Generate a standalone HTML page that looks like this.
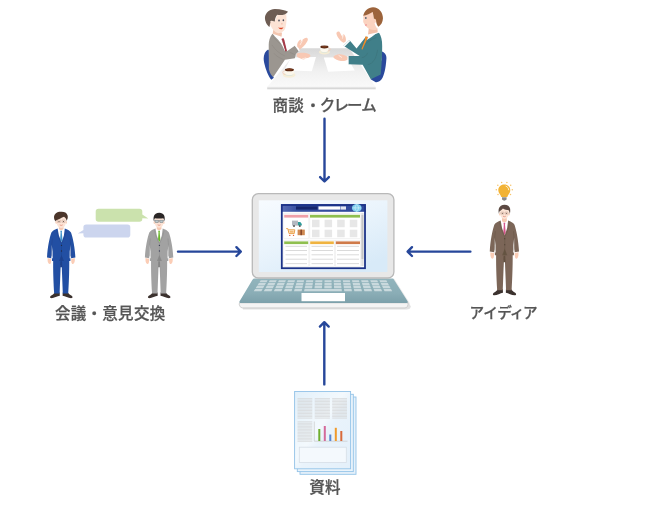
<!DOCTYPE html>
<html lang="ja">
<head>
<meta charset="utf-8">
<title>情報の集約</title>
<style>
html,body{margin:0;padding:0;background:#fff;}
body{width:650px;height:505px;overflow:hidden;position:relative;font-family:"Liberation Sans","Noto Sans CJK JP",sans-serif;}
svg{position:absolute;left:0;top:0;display:block;}
</style>
</head>
<body>
<svg width="650" height="505" viewBox="0 0 650 505">
<defs>
<linearGradient id="tbl" x1="0" y1="0" x2="0" y2="1"><stop offset="0" stop-color="#d8d8d8"/><stop offset="0.3" stop-color="#e5e5e5"/><stop offset="0.6" stop-color="#f1f1f1"/><stop offset="1" stop-color="#f9f9f9"/></linearGradient>
<linearGradient id="scr" x1="0" y1="0" x2="0.700" y2="1"><stop offset="0" stop-color="#f7fbff"/><stop offset="0.500" stop-color="#eaf4fc"/><stop offset="1" stop-color="#d8eaf8"/></linearGradient>
<linearGradient id="pg" x1="0" y1="0" x2="1" y2="1"><stop offset="0" stop-color="#e2f0fa"/><stop offset="0.45" stop-color="#f3f9fd"/><stop offset="0.55" stop-color="#e9f3fb"/><stop offset="1" stop-color="#e4f0fa"/></linearGradient>
<filter id="soft" x="-5%" y="-5%" width="110%" height="110%"><feGaussianBlur stdDeviation="0.35"/></filter>
<linearGradient id="base" x1="0" y1="0" x2="0" y2="1"><stop offset="0" stop-color="#92b4bc"/><stop offset="0.6" stop-color="#8aadb6"/><stop offset="1" stop-color="#7ca0aa"/></linearGradient>
<linearGradient id="hdr" x1="0" y1="0" x2="1" y2="0"><stop offset="0" stop-color="#5a6eb6"/><stop offset="0.2" stop-color="#364fa0"/><stop offset="1" stop-color="#2f4a9c"/></linearGradient>
<linearGradient id="tblf" x1="0" y1="0" x2="0" y2="1"><stop offset="0" stop-color="#ededed"/><stop offset="1" stop-color="#cdcdcd"/></linearGradient>
</defs>
<g filter="url(#soft)">
<!-- ARROWS -->
<g fill="none" stroke="#27479a" stroke-width="2.4" stroke-linecap="round" stroke-linejoin="round">
<path d="M324.5 118.800V181.300M320.100 177.100L324.500 181.500L328.900 177.100"/>
<path d="M324.300 384.400V322.400M319.900 326.600L324.300 322.200L328.700 326.600"/>
<path d="M178 251.600H240.600M236.400 247.200L240.800 251.600L236.400 256"/>
<path d="M470.400 251.600H407.800M412 247.200L407.600 251.600L412 256"/>
</g>

<!-- MEETING -->
<g id="meeting">
<!-- chairs -->
<g transform="translate(260,30) scale(0.09901)">
<path d="M82 196C45 215 28 270 42 330C58 400 85 470 115 502L140 482C112 440 94 400 92 330L90 205Z" fill="#2a4a9c"/>
</g>
<g transform="translate(330,30) scale(0.09901)">
<path d="M520 215C550 225 572 250 570 285C566 350 556 430 532 480C516 512 490 530 462 527L410 497L480 430L520 300Z" fill="#2a4a9c"/>
</g>
<!-- table -->
<path d="M299.600 48.300H349.300L375.700 87H267.200Z" fill="url(#tbl)"/>
<path d="M267.200 86.800H375.700V89.300H267.200Z" fill="url(#tblf)"/>
<!-- papers -->
<path d="M291 57.400L316 57.100L311.800 71.200L284.500 70.200Z" fill="#fff"/>
<path d="M323.800 57.600L347 57.300L354.800 70.500L328.200 71.700Z" fill="#fff"/>
<!-- cup centre -->
<ellipse cx="324.400" cy="52.100" rx="5.500" ry="2.300" fill="#f5ecd4"/>
<ellipse cx="324.400" cy="51.800" rx="3.600" ry="1.300" fill="#e4e8da"/>
<path d="M320.300 47H328.500V49.500C328.500 52.900 320.300 52.900 320.300 49.500Z" fill="#fcf8ee"/>
<path d="M328.300 48C330.900 47.600 330.900 51.200 327.800 51" fill="none" stroke="#f3cdb8" stroke-width="0.900"/>
<ellipse cx="324.400" cy="47" rx="4.100" ry="1.400" fill="#5a2a16"/>
<ellipse cx="324.400" cy="46.700" rx="2.900" ry="0.700" fill="#7a3a1c"/>
<!-- cup left -->
<ellipse cx="289.100" cy="75" rx="6.400" ry="2.700" fill="#f6eed8"/>
<ellipse cx="289.100" cy="74.600" rx="4" ry="1.500" fill="#e3e8dc"/>
<path d="M284.700 69.700H294.100V72.200C294.100 76 284.700 76 284.700 72.200Z" fill="#fbf7ec"/>
<path d="M285 70.800C282 70.600 282 74.600 285.400 74.400" fill="none" stroke="#f3cdb8" stroke-width="0.900"/>
<ellipse cx="289.400" cy="69.700" rx="4.500" ry="1.500" fill="#5a2a16"/>
<ellipse cx="289.400" cy="69.400" rx="3.200" ry="0.800" fill="#7a3a1c"/>

<!-- LEFT MAN body -->
<g transform="translate(260,30) scale(0.09901)">
<path d="M125 38C100 70 88 110 88 150L90 400C100 440 115 460 134 474L252 300L352 285L362 242L398 208L352 158L272 214L246 130C215 100 170 65 125 38Z" fill="#9b9690"/>
<path d="M128 60C150 90 190 130 215 150M120 150C150 200 200 240 250 262M140 235C165 265 200 285 240 300M300 225L355 250" fill="none" stroke="#857f79" stroke-width="5" opacity="0.700"/>
<path d="M128 34L216 72L232 86L220 100L258 210L247 206C232 160 200 105 148 62Z" fill="#fff"/>
<path d="M216 90L236 80L246 100L272 212L256 217L226 112Z" fill="#a63a48"/>
<path d="M350 157L380 168L402 206L392 216Z" fill="#fff"/>
<path d="M376 166C370 140 385 110 410 95C417 100 413 115 406 126C425 100 450 74 470 78C490 85 486 106 470 126C455 150 430 182 402 196Z" fill="#f8c8b3"/>
<path d="M370 240C400 225 460 228 500 245C516 255 511 275 490 280C470 282 456 285 450 296C430 300 400 286 374 270Z" fill="#f8c8b3"/>
<path d="M428 108L406 148M462 282L426 292" fill="none" stroke="#fff" stroke-width="7" stroke-linecap="round" opacity="0.850"/>
</g>
<!-- LEFT MAN head -->
<g transform="translate(260,0) scale(0.09901)">
<path d="M135 300L222 332L218 372L128 342Z" fill="#f3c6b0"/>
<path d="M175 150C210 156 245 150 264 140C270 180 270 230 258 276C250 312 215 337 185 336C150 330 120 290 105 256C94 240 94 215 110 212C125 210 140 215 150 215Z" fill="#fce3d5"/>
<path d="M283 118C260 105 215 92 150 90C95 92 55 130 50 175C48 215 70 255 96 273C100 256 100 240 106 228C98 214 112 206 126 212L150 218C150 190 160 166 175 150C210 156 262 152 283 118Z" fill="#6d5c52"/>
<ellipse cx="192" cy="208" rx="8" ry="10" fill="#454a58"/><ellipse cx="236" cy="205" rx="8" ry="10" fill="#454a58"/>
<ellipse cx="221" cy="241" rx="8" ry="6" fill="#f0b29c"/>
<path d="M184 276C200 284 222 282 236 274C232 296 198 306 184 276Z" fill="#dc4a2c"/>
</g>

<!-- RIGHT MAN body -->
<g transform="translate(330,30) scale(0.09901)">
<path d="M495 28C515 60 528 100 527 160C527 230 526 300 512 450L412 497L330 352L186 345L186 262L300 262L136 160L196 102L268 186L360 70Z" fill="#417f89"/>
<path d="M330 170C360 130 420 90 470 75M380 230C370 260 350 275 320 280M480 200C470 280 440 340 380 350" fill="none" stroke="#33686f" stroke-width="5" opacity="0.700"/>
<path d="M380 42L490 18L420 70L372 100Z" fill="#fff"/>
<path d="M358 62L384 72L372 100L326 200L318 192L352 100Z" fill="#ee8a2a"/>
<path d="M136 158L196 100L205 110L146 168Z" fill="#fff"/>
<path d="M186 262L186 345L176 345L176 262Z" fill="#fff"/>
<path d="M140 128C110 118 75 78 65 38C62 18 80 8 95 18C105 33 115 58 130 73C125 58 125 43 140 43C155 58 165 88 160 113Z" fill="#f8c8b3"/>
<path d="M176 272C146 246 100 240 70 250C45 255 30 266 36 280C50 296 80 306 110 312C136 316 160 310 176 300Z" fill="#f8c8b3"/>
<path d="M134 50L126 84M90 258L118 276" fill="none" stroke="#fff" stroke-width="7" stroke-linecap="round" opacity="0.850"/>
</g>
<!-- RIGHT MAN head -->
<g transform="translate(330,0) scale(0.09901)">
<path d="M392 285L478 285L482 326L384 348Z" fill="#f3c0a8"/>
<path d="M340 155C370 145 410 130 432 120L442 190C455 180 470 190 468 210C466 225 458 232 450 232C455 255 470 280 478 292L470 300C440 305 400 300 385 285C365 270 350 255 345 240C335 230 332 210 338 195C335 180 336 165 340 155Z" fill="#fbd3c0"/>
<path d="M335 160C345 110 385 72 435 72C495 75 535 125 535 185C533 225 515 255 488 270C475 255 468 235 466 215C468 198 456 186 444 192L432 120C410 135 370 150 335 160Z" fill="#9c643a"/>
<ellipse cx="362" cy="182" rx="8" ry="10" fill="#45566a"/>
<path d="M352 244C358 252 366 252 374 244C370 262 356 262 352 244Z" fill="#e0506a"/>
</g>
</g>


<!-- LAPTOP -->
<g id="laptop">
<path d="M243 309.400H406.500Q410.800 309.400 410.600 306.200L408.500 302H241Z" fill="#d4d4d4" opacity="0.7"/>
<path d="M394.500 279L410 303.500L407 303.500L392 279Z" fill="#dedede" opacity="0.6"/>
<path d="M240.500 302.800H406.800Q408.300 302.800 408.100 304.200L407.600 306Q407 307.900 405 307.900H242.600Q240.500 307.900 239.800 306L239.200 304.200Q239 302.800 240.500 302.800Z" fill="#f4f4f4" stroke="#c6c6c6" stroke-width="0.800"/>
<path d="M254.500 278.600H393.200L407.600 301.200Q408.500 303 406.200 303H241Q238.600 303 239.600 301.200Q247 289 252.300 280Q253.200 278.600 254.500 278.600Z" fill="url(#base)"/>
<rect x="252.300" y="193.700" width="141.600" height="84.300" rx="6" fill="#e8e8e8" stroke="#b9b9b9" stroke-width="1.300"/>
<rect x="258.800" y="200.300" width="128.600" height="71.700" fill="url(#scr)"/>
<path d="M260.7 280.3L267.63 280.3L266.48 282.3L259.42 282.3ZM269.82 280.3L276.76 280.3L275.78 282.3L268.72 282.3ZM278.95 280.3L285.89 280.3L285.08 282.3L278.02 282.3ZM288.08 280.3L295.02 280.3L294.38 282.3L287.32 282.3ZM297.21 280.3L304.15 280.3L303.68 282.3L296.62 282.3ZM306.34 280.3L313.28 280.3L312.98 282.3L305.92 282.3ZM315.47 280.3L322.4 280.3L322.28 282.3L315.22 282.3ZM324.6 280.3L331.53 280.3L331.58 282.3L324.52 282.3ZM333.72 280.3L340.66 280.3L340.88 282.3L333.82 282.3ZM342.85 280.3L349.79 280.3L350.18 282.3L343.12 282.3ZM351.98 280.3L358.92 280.3L359.48 282.3L352.42 282.3ZM361.11 280.3L368.05 280.3L368.78 282.3L361.72 282.3ZM370.24 280.3L377.18 280.3L378.08 282.3L371.02 282.3ZM379.37 280.3L386.3 280.3L387.38 282.3L380.32 282.3ZM258.9 283.1L266.02 283.1L264.76 285.3L257.5 285.3ZM268.27 283.1L275.39 283.1L274.32 285.3L267.05 285.3ZM277.64 283.1L284.76 283.1L283.87 285.3L276.61 285.3ZM287.01 283.1L294.13 283.1L293.43 285.3L286.17 285.3ZM296.38 283.1L303.5 283.1L302.99 285.3L295.73 285.3ZM305.75 283.1L312.87 283.1L312.55 285.3L305.28 285.3ZM315.12 283.1L322.24 283.1L322.1 285.3L314.84 285.3ZM324.48 283.1L331.6 283.1L331.66 285.3L324.4 285.3ZM333.85 283.1L340.97 283.1L341.22 285.3L333.95 285.3ZM343.22 283.1L350.34 283.1L350.77 285.3L343.51 285.3ZM352.59 283.1L359.71 283.1L360.33 285.3L353.07 285.3ZM361.96 283.1L369.08 283.1L369.89 285.3L362.63 285.3ZM371.33 283.1L378.45 283.1L379.45 285.3L372.18 285.3ZM380.7 283.1L387.82 283.1L389 285.3L381.74 285.3ZM257.18 285.8L264.47 285.8L263.04 288.3L255.58 288.3ZM266.78 285.8L274.07 285.8L272.85 288.3L265.39 288.3ZM276.38 285.8L283.67 285.8L282.67 288.3L275.21 288.3ZM285.98 285.8L293.27 285.8L292.48 288.3L285.02 288.3ZM295.58 285.8L302.87 285.8L302.29 288.3L294.83 288.3ZM305.18 285.8L312.47 285.8L312.11 288.3L304.65 288.3ZM314.78 285.8L322.07 285.8L321.92 288.3L314.46 288.3ZM324.38 285.8L331.67 285.8L331.74 288.3L324.28 288.3ZM333.98 285.8L341.27 285.8L341.55 288.3L334.09 288.3ZM343.58 285.8L350.87 285.8L351.37 288.3L343.91 288.3ZM353.18 285.8L360.47 285.8L361.18 288.3L353.72 288.3ZM362.78 285.8L370.07 285.8L370.99 288.3L363.53 288.3ZM372.38 285.8L379.67 285.8L380.81 288.3L373.35 288.3ZM381.98 285.8L389.27 285.8L390.62 288.3L383.16 288.3ZM255.13 289L262.63 289L261.37 291.2L253.72 291.2ZM265 289L272.51 289L271.43 291.2L263.79 291.2ZM274.88 289L282.38 289L281.5 291.2L273.85 291.2ZM284.75 289L292.26 289L291.56 291.2L283.91 291.2ZM294.63 289L302.13 289L301.62 291.2L293.97 291.2ZM344 289L351.5 289L351.94 291.2L344.29 291.2ZM353.87 289L361.38 289L362 291.2L354.35 291.2ZM363.75 289L371.25 289L372.06 291.2L364.41 291.2ZM373.62 289L381.13 289L382.12 291.2L374.48 291.2ZM383.5 289L391 289L392.19 291.2L384.54 291.2ZM304.5 289L341.63 289L341.87 291.2L304.04 291.2Z" fill="#c9d9dd"/>
<rect x="301.500" y="293" width="43.500" height="8.200" fill="#fff"/>
<!-- browser -->
<rect x="281.800" y="205" width="83.200" height="63.200" fill="#fdfdfd"/>
<rect x="281" y="204.200" width="84.800" height="7.600" fill="url(#hdr)"/>
<rect x="281.800" y="205" width="83.200" height="63.200" fill="none" stroke="#1c3288" stroke-width="1.800"/>
<rect x="296" y="206.400" width="21.500" height="3.200" fill="#16286c"/>
<rect x="318.500" y="206.400" width="22" height="3.200" fill="#fff"/>
<rect x="341" y="206.400" width="5" height="3.200" fill="#e3e7f2"/>
<ellipse cx="356.800" cy="208" rx="4.900" ry="3.900" fill="#7fd0ee"/>
<path d="M352.600 207.900H361M356.800 204.500C354.500 206.500 354.500 209.500 356.800 211.300C359 209.500 359 206.500 356.800 204.500" fill="none" stroke="#e8f7fd" stroke-width="0.500"/>
<rect x="361.300" y="213" width="2.300" height="53" fill="#e0e0e0"/>
<rect x="361.500" y="215" width="1.900" height="44" fill="#c4c4c4"/>
<rect x="283.800" y="213.500" width="25" height="25" fill="#fff" stroke="#ececec" stroke-width="0.600"/>
<rect x="284.200" y="214.800" width="24" height="2.800" fill="#f0a0a8"/>
<rect x="309.800" y="213.500" width="50.600" height="25" fill="#fff" stroke="#ececec" stroke-width="0.600"/>
<rect x="310" y="214.800" width="50" height="2.800" fill="#8fbf4f"/>
<g fill="#e7e7e7">
<rect x="312" y="219.700" width="7.500" height="7.500"/><rect x="324.600" y="219.700" width="7.500" height="7.500"/><rect x="337.200" y="219.700" width="7.500" height="7.500"/><rect x="349.800" y="219.700" width="7.500" height="7.500"/>
<rect x="312" y="229.700" width="7.500" height="7.500"/><rect x="324.600" y="229.700" width="7.500" height="7.500"/><rect x="337.200" y="229.700" width="7.500" height="7.500"/><rect x="349.800" y="229.700" width="7.500" height="7.500"/>
</g>
<rect x="283.800" y="240.600" width="25" height="26" fill="#fff" stroke="#ececec" stroke-width="0.600"/>
<rect x="309.800" y="240.600" width="24.600" height="26" fill="#fff" stroke="#ececec" stroke-width="0.600"/>
<rect x="335.400" y="240.600" width="25" height="26" fill="#fff" stroke="#ececec" stroke-width="0.600"/>
<rect x="284.200" y="241.400" width="24" height="2.700" fill="#8fbf4f"/>
<rect x="310.200" y="241.400" width="23.600" height="2.700" fill="#efb340"/>
<rect x="335.800" y="241.400" width="24.200" height="2.700" fill="#cf7a4a"/>
<g stroke="#d6d6d6" stroke-width="0.900" fill="none">
<path d="M285.500 246.300H307M285.500 250.500H307M285.500 254.800H307M285.500 259.200H307M285.500 263.600H307"/>
<path d="M311.500 246.300H333M311.500 250.500H333M311.500 254.800H333M311.500 259.200H333M311.500 263.600H333"/>
<path d="M337 246.300H359M337 250.500H359M337 254.800H359M337 259.200H359M337 263.600H359"/>
</g>
<!-- icons -->
<path d="M292 220.600H298V225.600H292Z" fill="#b4b8c0"/>
<path d="M298 222H300.300L301.800 224V225.600H298Z" fill="#2e9c9a"/>
<circle cx="294" cy="226" r="1" fill="#555"/><circle cx="299.800" cy="226" r="1" fill="#555"/>
<path d="M286.200 228.600H287.800L289 233.600H294.200L294.800 229.800H288.200" fill="none" stroke="#e9983a" stroke-width="0.900"/>
<rect x="289.500" y="230.600" width="4.200" height="2.200" fill="#f2b872"/>
<circle cx="289.800" cy="235.400" r="0.700" fill="#e0603a"/><circle cx="293.500" cy="235.400" r="0.700" fill="#e0603a"/>
<rect x="297.600" y="229.600" width="7.200" height="5.600" fill="#cf8a52"/>
<rect x="300.400" y="229.600" width="1.600" height="5.600" fill="#8a4a2a"/>
</g>


<!-- BLUE MAN -->
<g id="blueman">
<path d="M59.7 292.44L59.8 295.83C57.2 296.23 53.7 298.42 50.9 298.12C49.7 297.82 49.8 296.43 50.9 295.73C52.7 294.63 54.2 293.64 54.7 292.44Z" fill="#3b302e"/>
<path d="M62.7 292.44L62.6 295.83C65.2 296.23 68.7 298.42 71.7 298.12C72.9 297.82 72.8 296.43 71.7 295.73C69.9 294.63 68.4 293.64 67.9 292.44Z" fill="#3b302e"/>
<path d="M53.2 258.88L69.2 258.88C69.4 267.34 69 281.29 68.2 293.54L62.8 293.54L61.7 265.35L60.7 265.35L59.6 293.54L54.2 293.54C53.4 281.29 53 267.34 53.2 258.88Z" fill="#2350a3"/>
<path d="M60.4 261.37L62 261.37L63 281.29L62.4 267.34L60 267.34L59.4 281.29Z" fill="#1b3f8a"/>
<path d="M47.6 257.38L51 257.88C51.4 260.37 51.2 262.86 50.2 263.96C49 264.65 47.8 262.86 47.6 260.87Z" fill="#fbcdb6"/>
<path d="M74.8 257.38L71.4 257.88C71 260.37 71.2 262.86 72.2 263.96C73.4 264.65 74.6 262.86 74.8 260.87Z" fill="#fbcdb6"/>
<path d="M47.2 256.99L51.4 257.68L51.3 258.68L47.1 257.98Z" fill="#fff"/>
<path d="M75.2 256.99L71 257.68L71.1 258.68L75.3 257.98Z" fill="#fff"/>
<path d="M59 223.52L63.4 223.52L63.6 230.49L58.8 230.49Z" fill="#f6c9b3"/>
<path d="M57.8 228.5L61.2 230.49L64.6 228.5L65.8 231.49L61.5 242.44L56.6 231.49Z" fill="#fff"/>
<path d="M60.3 230.69L62.1 230.69L61.8 232.48L62.5 239.95L61.4 242.24L60.1 239.95L60.6 232.48Z" fill="#3f93cc"/>
<path d="M57.6 228.5C55.2 229.3 52.6 230.49 51.4 232.48C49.4 237.96 47.6 247.42 47 257.38L51.4 258.18L51.8 254.4L52 260.97L70.4 260.97L70.6 254.4L71 258.18L75.4 257.38C74.8 247.42 73 237.96 71 232.48C69.8 230.49 67.2 229.3 64.8 228.5L63.9 235.47L61.5 242.44L58.9 235.47Z" fill="#2350a3"/>
<path d="M51.6 244.44L52.8 251.41L52.9 258.28L51.3 258.48ZM70.8 244.44L69.6 251.41L69.5 258.28L71.1 258.48Z" fill="#fff" opacity="0.75"/>
<path d="M61.5 254.89L59 260.97L64 260.97Z" fill="#1b3f8a" opacity="0.8"/>
<path d="M56.6 230.49L58.2 236.47L61 243.04M66.2 230.49L64.8 236.47L62 243.04" fill="none" stroke="#1b3f8a" stroke-width="0.6" stroke-linejoin="round" opacity="0.7"/>
<path d="M52.4 238.46C51.6 244.44 51.6 250.41 51.8 256.39M70 238.46C70.8 244.44 70.8 250.41 70.6 256.39M61.5 242.44L61.5 260.87" fill="none" stroke="#1b3f8a" stroke-width="0.7" opacity="0.6"/>
<circle cx="61.5" cy="245.43" r="0.65" fill="#222a44"/><circle cx="61.5" cy="251.01" r="0.65" fill="#222a44"/>
<ellipse cx="56.3" cy="222.3" rx="0.9" ry="1.5" fill="#f8d2be"/><ellipse cx="66.1" cy="222.3" rx="0.9" ry="1.5" fill="#f8d2be"/>
<path d="M56.5 217.5C56.5 213.5 65.9 213.5 65.9 217.5L65.8 223C65.4 226.1 63.4 228.1 61.2 228.1C59 228.1 57 226.1 56.6 223Z" fill="#fce4d6"/>
<path d="M55.5 221.4C53.8 219.5 53.6 216.5 54.6 214.7C56.2 212.1 59.2 211.7 61.5 211.8C64.2 211.7 66.8 212.7 67.6 215.5C68.2 217.5 67.4 219.7 66.5 221C66.4 219.5 66 218.3 64 216.8C61.7 217.8 58.2 219.5 55.7 220.8Z" fill="#4b362c"/>
<circle cx="59" cy="221.5" r="0.55" fill="#4a3a34"/><circle cx="63.4" cy="221.5" r="0.55" fill="#4a3a34"/>
<path d="M57.4 220.1L60.4 220.1L60.4 222.5L57.4 222.5ZM62 220.1L65 220.1L65 222.5L62 222.5Z" fill="none" stroke="#c9a596" stroke-width="0.5"/>
<path d="M60 225.1Q61.2 226 62.4 225.1" fill="none" stroke="#d9725f" stroke-width="0.6" stroke-linecap="round"/>
</g>
<!-- GRAY MAN -->
<g id="grayman">
<path d="M157.6 292.44L157.7 295.83C155.1 296.23 151.6 298.42 148.8 298.12C147.6 297.82 147.7 296.43 148.8 295.73C150.6 294.63 152.1 293.64 152.6 292.44Z" fill="#3b302e"/>
<path d="M160.6 292.44L160.5 295.83C163.1 296.23 166.6 298.42 169.6 298.12C170.8 297.82 170.7 296.43 169.6 295.73C167.8 294.63 166.3 293.64 165.8 292.44Z" fill="#3b302e"/>
<path d="M151.1 258.88L167.1 258.88C167.3 267.34 166.9 281.29 166.1 293.54L160.7 293.54L159.6 265.35L158.6 265.35L157.5 293.54L152.1 293.54C151.3 281.29 150.9 267.34 151.1 258.88Z" fill="#a2a2a2"/>
<path d="M158.3 261.37L159.9 261.37L160.9 281.29L160.3 267.34L157.9 267.34L157.3 281.29Z" fill="#858585"/>
<path d="M145.5 257.38L148.9 257.88C149.3 260.37 149.1 262.86 148.1 263.96C146.9 264.65 145.7 262.86 145.5 260.87Z" fill="#fbcdb6"/>
<path d="M172.7 257.38L169.3 257.88C168.9 260.37 169.1 262.86 170.1 263.96C171.3 264.65 172.5 262.86 172.7 260.87Z" fill="#fbcdb6"/>
<path d="M145.1 256.99L149.3 257.68L149.2 258.68L145 257.98Z" fill="#fff"/>
<path d="M173.1 256.99L168.9 257.68L169 258.68L173.2 257.98Z" fill="#fff"/>
<path d="M156.9 223.52L161.3 223.52L161.5 230.49L156.7 230.49Z" fill="#f6c9b3"/>
<path d="M155.7 228.5L159.1 230.49L162.5 228.5L163.7 231.49L159.4 242.44L154.5 231.49Z" fill="#fff"/>
<path d="M158.2 230.69L160 230.69L159.7 232.48L160.4 239.95L159.3 242.24L158 239.95L158.5 232.48Z" fill="#6ab82c"/>
<path d="M155.5 228.5C153.1 229.3 150.5 230.49 149.3 232.48C147.3 237.96 145.5 247.42 144.9 257.38L149.3 258.18L149.7 254.4L149.9 260.97L168.3 260.97L168.5 254.4L168.9 258.18L173.3 257.38C172.7 247.42 170.9 237.96 168.9 232.48C167.7 230.49 165.1 229.3 162.7 228.5L161.8 235.47L159.4 242.44L156.8 235.47Z" fill="#a2a2a2"/>
<path d="M149.5 244.44L150.7 251.41L150.8 258.28L149.2 258.48ZM168.7 244.44L167.5 251.41L167.4 258.28L169 258.48Z" fill="#fff" opacity="0.75"/>
<path d="M159.4 254.89L156.9 260.97L161.9 260.97Z" fill="#858585" opacity="0.8"/>
<path d="M154.5 230.49L156.1 236.47L158.9 243.04M164.1 230.49L162.7 236.47L159.9 243.04" fill="none" stroke="#858585" stroke-width="0.6" stroke-linejoin="round" opacity="0.7"/>
<path d="M150.3 238.46C149.5 244.44 149.5 250.41 149.7 256.39M167.9 238.46C168.7 244.44 168.7 250.41 168.5 256.39M159.4 242.44L159.4 260.87" fill="none" stroke="#858585" stroke-width="0.7" opacity="0.6"/>
<circle cx="159.4" cy="245.43" r="0.65" fill="#3a3f55"/><circle cx="159.4" cy="251.01" r="0.65" fill="#3a3f55"/>
<ellipse cx="154.49" cy="222.52" rx="0.9" ry="1.5" fill="#f8d2be"/><ellipse cx="163.71" cy="222.52" rx="0.9" ry="1.5" fill="#f8d2be"/>
<path d="M154.68 218.2C154.68 214.6 163.52 214.6 163.52 218.2L163.42 223.15C163.05 225.94 161.17 227.74 159.1 227.74C157.03 227.74 155.15 225.94 154.78 223.15Z" fill="#fce4d6"/>
<path d="M153.84 221.35C153.08 218.2 153.46 215.05 155.72 213.7C157.78 212.53 160.6 212.53 162.67 213.7C164.93 215.05 165.12 218.2 164.36 221.35C164.08 219.82 163.8 218.92 163.24 218.2C160.98 218.56 157.22 218.56 154.96 218.2C154.4 218.92 154.12 219.82 153.84 221.35Z" fill="#2b2725"/>
<path d="M154.96 220.36L158.44 220.36L158.25 222.52L155.34 222.52ZM159.76 220.36L163.24 220.36L162.86 222.52L159.95 222.52Z" fill="#bcc9cf" stroke="#6a7478" stroke-width="0.5"/>
<path d="M158.44 220.9L159.76 220.9M154.96 220.72L154.02 220.72M163.24 220.72L164.18 220.72" fill="none" stroke="#5a6468" stroke-width="0.6"/>
<path d="M157.97 225.04Q159.1 225.85 160.23 225.04" fill="none" stroke="#d9725f" stroke-width="0.6" stroke-linecap="round"/>
</g>
<!-- BROWN MAN -->
<g id="brownman">
<path d="M502.85 289.13L502.96 292.76C500.28 293.19 496.67 295.54 493.79 295.22C492.55 294.9 492.66 293.41 493.79 292.66C495.64 291.48 497.19 290.41 497.7 289.13Z" fill="#3b302e"/>
<path d="M505.94 289.13L505.84 292.76C508.52 293.19 512.12 295.54 515.22 295.22C516.45 294.9 516.35 293.41 515.22 292.66C513.36 291.48 511.82 290.41 511.3 289.13Z" fill="#3b302e"/>
<path d="M496.16 253.1L512.64 253.1C512.85 262.19 512.43 277.16 511.61 290.31L506.05 290.31L504.91 260.05L503.88 260.05L502.75 290.31L497.19 290.31C496.37 277.16 495.95 262.19 496.16 253.1Z" fill="#7b6658"/>
<path d="M503.58 255.78L505.22 255.78L506.25 277.16L505.64 262.19L503.16 262.19L502.55 277.16Z" fill="#62503f"/>
<path d="M490.39 251.5L493.89 252.04C494.31 254.71 494.1 257.38 493.07 258.56C491.83 259.3 490.6 257.38 490.39 255.24Z" fill="#fbcdb6"/>
<path d="M518.41 251.5L514.91 252.04C514.49 254.71 514.7 257.38 515.73 258.56C516.97 259.3 518.2 257.38 518.41 255.24Z" fill="#fbcdb6"/>
<path d="M489.98 251.07L494.31 251.82L494.2 252.89L489.88 252.14Z" fill="#fff"/>
<path d="M518.82 251.07L514.49 251.82L514.6 252.89L518.92 252.14Z" fill="#fff"/>
<path d="M502.13 215.16L506.67 215.16L506.87 222.64L501.93 222.64Z" fill="#f6c9b3"/>
<path d="M500.9 220.5L504.4 222.64L507.9 220.5L509.14 223.71L504.71 235.47L499.66 223.71Z" fill="#fff"/>
<path d="M503.47 222.85L505.33 222.85L505.02 224.78L505.74 232.79L504.61 235.25L503.27 232.79L503.78 224.78Z" fill="#d5578c"/>
<path d="M500.69 220.5C498.22 221.36 495.54 222.64 494.31 224.78C492.25 230.66 490.39 240.81 489.77 251.5L494.31 252.36L494.72 248.29L494.92 255.35L513.88 255.35L514.08 248.29L514.49 252.36L519.03 251.5C518.41 240.81 516.55 230.66 514.49 224.78C513.26 222.64 510.58 221.36 508.11 220.5L507.18 227.98L504.71 235.47L502.03 227.98Z" fill="#7b6658"/>
<path d="M494.51 237.6L495.75 245.09L495.85 252.46L494.2 252.68ZM514.29 237.6L513.05 245.09L512.95 252.46L514.6 252.68Z" fill="#fff" opacity="0.75"/>
<path d="M504.71 248.83L502.13 255.35L507.28 255.35Z" fill="#62503f" opacity="0.8"/>
<path d="M499.66 222.64L501.31 229.05L504.19 236.11M509.55 222.64L508.11 229.05L505.22 236.11" fill="none" stroke="#62503f" stroke-width="0.6" stroke-linejoin="round" opacity="0.7"/>
<path d="M495.34 231.19C494.51 237.6 494.51 244.02 494.72 250.43M513.46 231.19C514.29 237.6 514.29 244.02 514.08 250.43M504.71 235.47L504.71 255.24" fill="none" stroke="#62503f" stroke-width="0.7" opacity="0.6"/>
<circle cx="504.71" cy="238.67" r="0.65" fill="#54443a"/><circle cx="504.71" cy="244.66" r="0.65" fill="#54443a"/>
<ellipse cx="499.89" cy="213.99" rx="0.9" ry="1.5" fill="#f8d2be"/><ellipse cx="508.91" cy="213.99" rx="0.9" ry="1.5" fill="#f8d2be"/>
<path d="M500.08 209.86C500.08 206.42 508.72 206.42 508.72 209.86L508.63 214.59C508.26 217.26 506.42 218.98 504.4 218.98C502.38 218.98 500.54 217.26 500.17 214.59Z" fill="#fce4d6"/>
<path d="M498.88 213.73C498.14 210.29 498.51 207.11 500.9 205.65C503.02 204.36 506.24 204.44 508.26 205.65C510.47 207.11 510.66 210.29 509.92 213.73C509.55 212.27 509.18 211.06 508.45 210.03C506.98 210.03 504.4 209.52 502.93 208.48C501.82 209.86 500.17 210.72 499.43 211.58Z" fill="#5b4a42"/>
<circle cx="502.38" cy="213.3" r="0.55" fill="#4a3a34"/><circle cx="506.42" cy="213.3" r="0.55" fill="#4a3a34"/>
<path d="M500.9 212.1L503.66 212.1L503.66 214.16L500.9 214.16ZM505.14 212.1L507.9 212.1L507.9 214.16L505.14 214.16Z" fill="none" stroke="#c9a596" stroke-width="0.5"/>
<path d="M503.3 216.4Q504.4 217.17 505.5 216.4" fill="none" stroke="#d9725f" stroke-width="0.6" stroke-linecap="round"/>
</g>

<!-- BUBBLES -->
<path d="M98.500 208.800H139.500Q142.300 208.800 142.300 211.600V214.500L148.300 218.500L142.300 218.300V219Q142.300 221.800 139.500 221.800H98.500Q95.700 221.800 95.700 219V211.600Q95.700 208.800 98.500 208.800Z" fill="#cbe2ad"/>
<path d="M86.200 224.500H127.500Q130.300 224.500 130.300 227.300V234.700Q130.300 237.500 127.500 237.500H86.200Q83.400 237.500 83.400 234.700V233.200L77.700 233.500L83.400 230V227.300Q83.400 224.500 86.200 224.500Z" fill="#ccd5ee"/>

<!-- BULB -->
<g id="bulb">
<path d="M504.300 184.500C508 184.500 510.300 187.200 510.300 190.200C510.300 193 508 194.500 507.300 197H501.300C500.600 194.500 498.300 193 498.300 190.200C498.300 187.200 500.600 184.500 504.300 184.500Z" fill="#f2b336"/>
<path d="M506 186.200C507.600 186.800 508.600 188.200 508.700 189.800" fill="none" stroke="#fdf0d0" stroke-width="1" stroke-linecap="round"/>
<path d="M502 197.300H506.600V199.500Q504.300 201.800 502 199.500Z" fill="#8c8c8c"/>
<g fill="#f7c46a">
<circle cx="501.6" cy="182.4" r="0.75"/><circle cx="506.9" cy="182.4" r="0.75"/><circle cx="497.8" cy="185.3" r="0.75"/><circle cx="510.7" cy="185.3" r="0.75"/><circle cx="496.3" cy="189.8" r="0.75"/><circle cx="512.3" cy="189.8" r="0.75"/><circle cx="498" cy="194.4" r="0.75"/><circle cx="510.5" cy="194.4" r="0.75"/>
</g>
</g>

<!-- DOCS -->
<g id="docs">
<rect x="300" y="397" width="56" height="77.300" fill="#e6f1fa" stroke="#93c3e8" stroke-width="0.900"/>
<rect x="297.300" y="394.300" width="56" height="77.300" fill="#ebf4fb" stroke="#93c3e8" stroke-width="0.900"/>
<rect x="294.600" y="391.500" width="56" height="77.300" fill="url(#pg)" stroke="#93c3e8" stroke-width="0.900"/>
<path d="M297.5 398.6H312.3M297.5 400.1H312.3M297.5 401.6H312.3M297.5 403.1H312.3M297.5 404.6H312.3M297.5 406.1H312.3M297.5 407.6H312.3M297.5 409.1H312.3M297.5 410.6H312.3M297.5 412.1H312.3M297.5 413.6H312.3M297.5 415.1H312.3M297.5 416.6H312.3M297.5 418.1H312.3M314.7 398.6H329.9M314.7 400.1H329.9M314.7 401.6H329.9M314.7 403.1H329.9M314.7 404.6H329.9M314.7 406.1H329.9M314.7 407.6H329.9M314.7 409.1H329.9M314.7 410.6H329.9M314.7 412.1H329.9M314.7 413.6H329.9M314.7 415.1H329.9M314.7 416.6H329.9M314.7 418.1H329.9M332.2 398.6H347M332.2 400.1H347M332.2 401.6H347M332.2 403.1H347M332.2 404.6H347M332.2 406.1H347M332.2 407.6H347M332.2 409.1H347M332.2 410.6H347M332.2 412.1H347M332.2 413.6H347M332.2 415.1H347M332.2 416.6H347M332.2 418.1H347M297.5 421.8H312.3M297.5 423.3H312.3M297.5 424.8H312.3M297.5 426.3H312.3M297.5 427.8H312.3M297.5 429.3H312.3M297.5 430.8H312.3M297.5 432.3H312.3M297.5 433.8H312.3M297.5 435.3H312.3M297.5 436.8H312.3M297.5 438.3H312.3M297.5 439.8H312.3M297.5 441.3H312.3" fill="none" stroke="#d4d6d8" stroke-width="0.8"/>
<path d="M314.300 421.500V441.200H347.500" fill="none" stroke="#c8c8c8" stroke-width="0.700"/>
<rect x="318.300" y="429" width="2" height="12" fill="#6fae2e"/>
<rect x="323.800" y="426" width="2" height="15" fill="#d46a9a"/>
<rect x="329.300" y="434.500" width="2" height="6.500" fill="#5a86d0"/>
<rect x="334.800" y="427.800" width="2" height="13.200" fill="#f09a2a"/>
<rect x="340.300" y="431" width="2" height="10" fill="#d96a3a"/>
<rect x="299.300" y="447.200" width="47" height="15.300" fill="#f4f9fd" stroke="#d6dee6" stroke-width="0.800"/>
</g>
<g font-family="'Liberation Sans','Noto Sans CJK JP',sans-serif" font-size="15.5" font-weight="500" fill="#555" stroke="#555" stroke-width="0.25" stroke-linejoin="round" text-anchor="middle" letter-spacing="0.3">
<text text-anchor="start" letter-spacing="0" x="272.5 288.2 305.2 319.7 333.5 347.1 361.3" y="111">商談・クレーム</text>
<text x="110.2" y="318.5">会議・意見交換</text>
<text text-anchor="start" letter-spacing="0" font-size="14.6" x="469.6 483.3 497.3 509.8 523" y="318.2">アイディア</text>
<text x="325" y="493">資料</text>
</g>
</g>
</svg>
</body>
</html>
